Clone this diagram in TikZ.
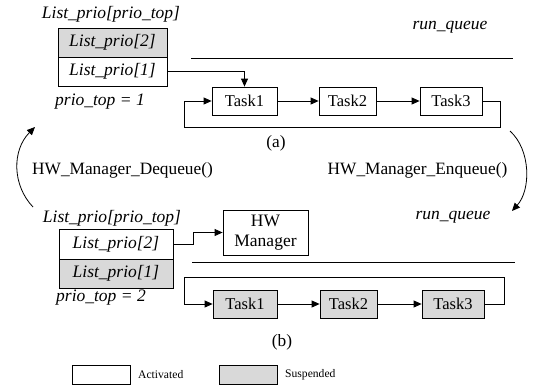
\documentclass[tikz,border=0pt]{standalone}
\usepackage{fontspec}
\setmainfont{Liberation Serif}
\usetikzlibrary{arrows.meta}
\definecolor{susp}{HTML}{D9D9D9}
\tikzset{
  box/.style={draw=black, line width=0.8pt, inner sep=0pt, anchor=center},
  taskbox/.style={box, minimum height=28pt, font=\fontsize{16.5}{18}\selectfont},
  listbox/.style={box, font=\fontsize{17.5}{20}\selectfont\itshape},
  lbl/.style={inner sep=0pt, font=\fontsize{17.5}{20}\selectfont\itshape},
  rlbl/.style={inner sep=0pt, font=\fontsize{17.3}{20}\selectfont},
  leg/.style={inner sep=0pt, font=\fontsize{11.6}{13}\selectfont},
  arr/.style={line width=0.8pt, -{Triangle[length=8pt,width=7pt]}},
  ln/.style={line width=0.8pt},
}
\begin{document}
\begin{tikzpicture}[x=1pt,y=-1pt]
\useasboundingbox (0,0) rectangle (533,391);
% ---------- (a) ----------
\node[lbl] (lpa) at (111,14) {List\_prio[prio\_top]};
\node[listbox, fill=susp, minimum width=109pt, minimum height=29pt] (l2a) at (112.5,42.5) {List\_prio[2]};
\node[listbox, fill=white, minimum width=109pt, minimum height=29pt] (l1a) at (112.5,71.5) {List\_prio[1]};
\node[lbl] (pta) at (100,102) {prio\_top = 1};
\node[lbl] (rqa) at (450,27) {run\_queue};
\coordinate (hla1) at (191,58);
\coordinate (hla2) at (513,58);
\draw[ln] (hla1) -- (hla2);
\node[taskbox, minimum width=65pt] (t1a) at (244.5,101) {Task1};
\node[taskbox, minimum width=57pt] (t2a) at (347.5,101) {Task2};
\node[taskbox, minimum width=62pt] (t3a) at (451,101) {Task3};
\draw[arr] (l1a.east) -| (t1a.north);
\draw[arr] (t1a.east) -- (t2a.west);
\draw[arr] (t2a.east) -- (t3a.west);
\coordinate (la1) at (500,127);
\coordinate (la2) at (184,127);
\draw[arr] (t3a.east) -| (la1) -- (la2) |- (t1a.west);
\node[rlbl] (capa) at (276,143) {(a)};
% ---------- transitions ----------
\node[rlbl] (deq) at (122.5,170) {HW\_Manager\_Dequeue()};
\node[rlbl] (enq) at (417.5,170) {HW\_Manager\_Enqueue()};
\coordinate (ldS) at (33,207);
\coordinate (ldE) at (35,127);
\draw[arr] (ldS) .. controls (12,185) and (12,150) .. (ldE);
\coordinate (reS) at (510,131);
\coordinate (reE) at (512,211);
\draw[arr] (reS) .. controls (531,150) and (531,190) .. (reE);
% ---------- (b) ----------
\node[lbl] (lpb) at (112,218) {List\_prio[prio\_top]};
\node[listbox, fill=white, minimum width=114pt, minimum height=30pt] (l2b) at (116,244) {List\_prio[2]};
\node[listbox, fill=susp, minimum width=114pt, minimum height=29pt] (l1b) at (116,273.5) {List\_prio[1]};
\node[lbl] (ptb) at (101,298) {prio\_top = 2};
\node[lbl] (rqb) at (453,217) {run\_queue};
\node[box, minimum width=85pt, minimum height=45pt, align=center,
      font=\fontsize{17.5}{20}\selectfont] (hw) at (265.5,232.5) {HW\\Manager};
\coordinate (hwc) at (193,244);
\draw[arr] (l2b.east) -- (hwc) |- (hw.west);
\coordinate (hlb1) at (192,262);
\coordinate (hlb2) at (515,262);
\draw[ln] (hlb1) -- (hlb2);
\node[taskbox, fill=susp, minimum width=64pt] (t1b) at (245,304) {Task1};
\node[taskbox, fill=susp, minimum width=57pt] (t2b) at (348.5,304) {Task2};
\node[taskbox, fill=susp, minimum width=62pt] (t3b) at (453,304) {Task3};
\draw[arr] (t1b.east) -- (t2b.west);
\draw[arr] (t2b.east) -- (t3b.west);
\coordinate (lb1) at (504,277);
\coordinate (lb2) at (184,277);
\draw[arr] (t3b.east) -| (lb1) -- (lb2) |- (t1b.west);
\node[rlbl] (capb) at (282,342) {(b)};
% ---------- legend ----------
\node[box, fill=white, minimum width=58pt, minimum height=19pt] (lga) at (101,374.5) {};
\node[leg, anchor=west] (lgat) at (138,375) {Activated};
\node[box, fill=susp, minimum width=58pt, minimum height=19pt] (lgs) at (248,374.5) {};
\node[leg, anchor=west] (lgst) at (285,375) {Suspended};
\end{tikzpicture}
\end{document}
